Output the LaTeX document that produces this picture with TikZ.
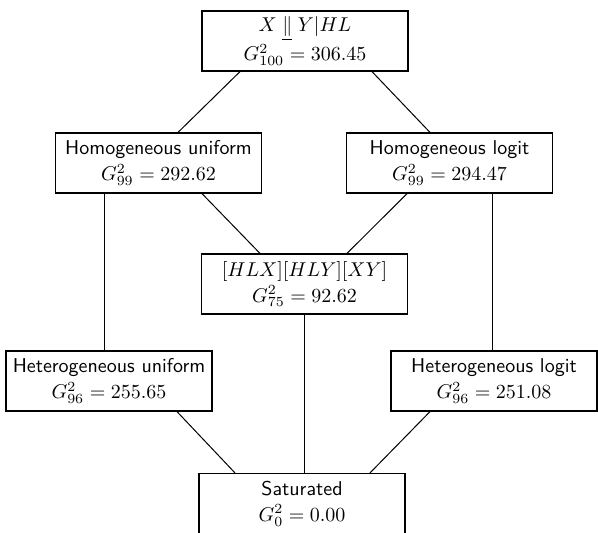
\documentclass[tikz,border=0pt]{standalone}
\tikzset{model/.style={draw, line width=0.6pt, align=center,
    minimum width=103pt, minimum height=30pt, inner sep=2pt,
    font=\sffamily},
    link/.style={line width=0.5pt},
    }

\begin{document}
\begin{tikzpicture}[x=0.5pt,y=-0.5pt]
\useasboundingbox (0,0) rectangle (598,532);
\node[model] (indep) at (305,41) {$X \mathrel{\underline{\|}} Y | HL$\\[1pt]$G^2_{100} = 306.45$};
\node[model] (homU) at (158.5,163) {Homogeneous uniform\\[1pt]$G^2_{99} = 292.62$};
\node[model] (homL) at (449.5,163) {Homogeneous logit\\[1pt]$G^2_{99} = 294.47$};
\node[model] (nothree) at (304.5,284) {$[HLX][HLY][XY]$\\[1pt]$G^2_{75} = 92.62$};
\node[model] (hetU) at (109,381) {Heterogeneous uniform\\[1pt]$G^2_{96} = 255.65$};
\node[model] (hetL) at (494,381) {Heterogeneous logit\\[1pt]$G^2_{96} = 251.08$};
\node[model] (sat) at (302,503.5) {Saturated\\[1pt]$G^2_{0} = 0.00$};
% first level
\draw[link] ([xshift=-32.5pt]indep.south) -- ([xshift=9.75pt]homU.north);
\draw[link] ([xshift=33.5pt]indep.south) -- ([xshift=-9.75pt]homL.north);
% to no-three-way
\draw[link] ([xshift=21.75pt]homU.south) -- ([xshift=-22.25pt]nothree.north);
\draw[link] ([xshift=-21.25pt]homL.south) -- ([xshift=21.25pt]nothree.north);
% to heterogeneous
\draw[link] ([xshift=-27.25pt]homU.south) -- ([xshift=-27.25pt]homU.south |- hetU.north);
\draw[link] ([xshift=21.25pt]homL.south) -- ([xshift=21.25pt]homL.south |- hetL.north);
% to saturated
\draw[link] (nothree.south) -- (nothree.south |- sat.north);
\draw[link] ([xshift=34pt]hetU.south) -- ([xshift=-33.5pt]sat.north);
\draw[link] ([xshift=-32pt]hetL.south) -- ([xshift=34pt]sat.north);
\end{tikzpicture}
\end{document}
